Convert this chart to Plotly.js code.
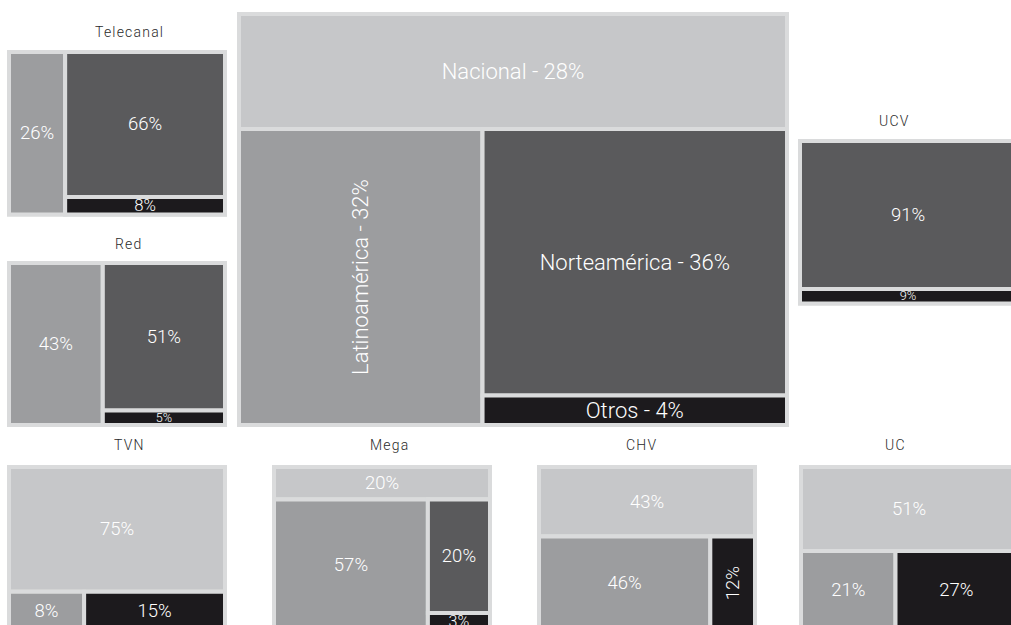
<!DOCTYPE html>
<html>
<head>
<meta charset="utf-8">
<script src="https://cdn.plot.ly/plotly-3.0.1.min.js"></script>
<style>
html, body { margin: 0; padding: 0; overflow: hidden; background: #ffffff; }
#chart { width: 1030px; height: 645px; }
.annotation-text { letter-spacing: 1.2px; }
</style>
</head>
<body>
<div id="chart"></div>
<script>
// ---- data (shares in %) ----
const categories = ['Nacional', 'Latinoamérica', 'Norteamérica', 'Otros'];
const totalShare     = [28, 32, 36, 4];
const telecanalShare = [null, 26, 66, 8];
const redShare       = [null, 43, 51, 5];
const ucvShare       = [null, null, 91, 9];
const tvnShare       = [75, 8, null, 15];
const megaShare      = [20, 57, 20, 3];
const chvShare       = [43, 46, null, 12];
const ucShare        = [51, 21, null, 27];
const rotatedLabels  = ['Latinoamérica - 32%', '12%'];

// ---- styling ----
const W = 1030, H = 645;
const FONT = 'Roboto, "Open Sans", "DejaVu Sans", sans-serif';
const BORDER = '#dadbdc';
const catColors = ['#c6c7c9', '#9c9d9f', '#5a5a5c', '#1c1a1d'];
const LINE = 4;

function domainFromBox(b) {
  const h = LINE / 2;
  return {
    x: [(b[0] + h) / W, (b[1] - h) / W],
    y: [1 - (b[3] - h) / H, 1 - (b[2] + h) / H]
  };
}

function buildTree(id, shares, withNames, packing, fontSize, box) {
  const ids = [id], labels = [id], parents = [''], values = [0], colors = [BORDER], texts = [''];
  const present = categories.map((c, i) => i).filter(i => shares[i] != null);
  let parent = id;
  present.forEach((ci, k) => {
    ids.push(id + '/' + categories[ci]);
    labels.push(categories[ci]);
    parents.push(parent);
    values.push(shares[ci]);
    colors.push(catColors[ci]);
    texts.push(withNames ? categories[ci] + ' - ' + shares[ci] + '%' : shares[ci] + '%');
    if (k < present.length - 2) {
      const gid = id + '/resto' + k;
      ids.push(gid); labels.push('resto'); parents.push(parent);
      values.push(0); colors.push(BORDER); texts.push('');
      parent = gid;
    }
  });
  return {
    type: 'treemap',
    name: id,
    ids: ids, labels: labels, parents: parents, values: values, text: texts,
    branchvalues: 'remainder',
    sort: false,
    textinfo: 'text',
    textposition: 'middle center',
    textfont: { family: FONT, size: fontSize, color: '#ffffff', weight: 300 },
    marker: {
      colors: colors,
      line: { color: BORDER, width: LINE },
      pad: { t: 0, l: 0, r: 0, b: 0 },
      depthfade: false
    },
    root: { color: BORDER },
    leaf: { opacity: 1 },
    tiling: { packing: packing, pad: 0 },
    pathbar: { visible: false },
    hoverinfo: 'skip',
    domain: domainFromBox(box)
  };
}

const traces = [
  buildTree('Total',     totalShare,     true,  'dice-slice', 22, [237, 789, 12, 427]),
  buildTree('Telecanal', telecanalShare, false, 'slice-dice', 18.5, [7, 227, 50, 216.5]),
  buildTree('Red',       redShare,       false, 'slice-dice', 18.5, [7, 227, 261, 427]),
  buildTree('UCV',       ucvShare,       false, 'dice-slice', 18.5, [798, 1018, 139, 305.5]),
  buildTree('TVN',       tvnShare,       false, 'dice-slice', 18.5, [7, 227, 465, 632]),
  buildTree('Mega',      megaShare,      false, 'dice-slice', 18.5, [272, 492, 465, 632]),
  buildTree('CHV',       chvShare,       false, 'dice-slice', 18.5, [537, 757, 465, 632]),
  buildTree('UC',        ucShare,        false, 'dice-slice', 18.5, [799, 1019, 465, 632])
];

const titles = [
  ['Telecanal', 129.5, 32.5],
  ['Red', 129, 244.5],
  ['UCV', 894, 121],
  ['TVN', 129, 445],
  ['Mega', 389, 445],
  ['CHV', 641, 445],
  ['UC', 895, 445]
];

const layout = {
  width: W, height: H,
  margin: { l: 0, r: 0, t: 0, b: 0 },
  paper_bgcolor: '#ffffff',
  showlegend: false,
  annotations: titles.map(t => ({
    text: t[0], x: t[1] / W, y: 1 - t[2] / H, xref: 'paper', yref: 'paper',
    xanchor: 'center', yanchor: 'middle', showarrow: false,
    font: { family: FONT, size: 14, color: '#2a2a2a', weight: 300 }
  }))
};

const gd = document.getElementById('chart');
Plotly.newPlot(gd, traces, layout, { staticPlot: true, displayModeBar: false }).then(() => {
  gd.querySelectorAll('g.slice').forEach(g => {
    const path = g.querySelector('path.surface');
    const txt = g.querySelector('text');
    if (!path || !txt || !txt.textContent) return;
    const pb = path.getBBox();
    txt.removeAttribute('transform');
    const tb = txt.getBBox();
    const fs = parseFloat(txt.style.fontSize) || 18;
    const rot = rotatedLabels.indexOf(txt.textContent) !== -1;
    const availW = (rot ? pb.height : pb.width) - LINE - 6;
    const availH = (rot ? pb.width : pb.height) - LINE - 1;
    const s = Math.min(1, availW / tb.width, availH / (0.75 * fs));
    const cx = pb.x + pb.width / 2, cy = pb.y + pb.height / 2;
    const tcx = tb.x + tb.width / 2, tcy = tb.y + tb.height / 2;
    txt.setAttribute('transform',
      'translate(' + cx + ',' + cy + ') scale(' + s + ')' + (rot ? ' rotate(-90)' : '') +
      ' translate(' + (-tcx) + ',' + (-tcy) + ')');
  });
});
</script>
</body>
</html>
